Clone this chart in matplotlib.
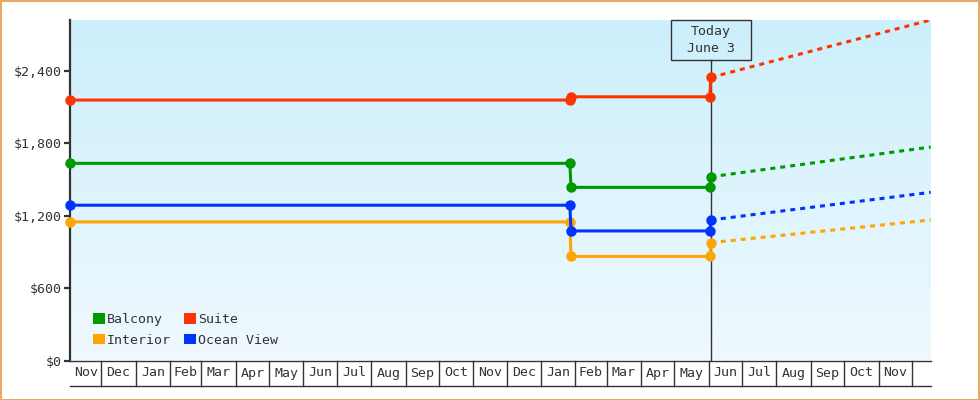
import matplotlib
matplotlib.use('Agg')
import matplotlib.pyplot as plt
import matplotlib.dates as mdates
from matplotlib.colors import LinearSegmentedColormap
from matplotlib.patches import Rectangle, Patch
from matplotlib.transforms import blended_transform_factory
import numpy as np
import pandas as pd

# ---- data ----
axis_start = '2017-11-03'
axis_end = '2019-12-18'
today = '2019-06-03'
today_label = 'Today\nJune 3'

price_dates = ['2017-11-03', '2019-01-27', '2019-01-28', '2019-06-02', '2019-06-03']
forecast_dates = ['2019-06-03', '2019-12-18']

series_names = ['Balcony', 'Suite', 'Interior', 'Ocean View']
series_colors = ['#009900', '#FF3300', '#FFA500', '#0033FF']
balcony = [1633, 1633, 1434, 1434, 1522]
suite = [2157, 2157, 2184, 2184, 2345]
interior = [1148, 1148, 862, 862, 976]
ocean_view = [1286, 1286, 1073, 1073, 1164]
forecast_end = [1768, 2820, 1164, 1393]

y_ticks = [0, 600, 1200, 1800, 2400]
y_max = 2820

TEXT = '#333333'
plt.rcParams['font.family'] = ['DejaVu Sans Mono']
plt.rcParams['lines.scale_dashes'] = False

fig = plt.figure(figsize=(9.8, 4), dpi=100)
W, H = 980, 400
ax = fig.add_axes([70.3 / W, 39.5 / H, (930.7 - 70.3) / W, (380 - 39.5) / H])
ax_w_px, ax_h_px = 930.7 - 70.3, 380 - 39.5

# gradient background
cmap = LinearSegmentedColormap.from_list('bg', ['#CCEFFC', '#EFF9FE'])
ax.imshow(np.linspace(0, 1, 256).reshape(-1, 1), extent=[0, 1, 0, 1],
          transform=ax.transAxes, cmap=cmap, aspect='auto', zorder=0)

x = pd.to_datetime(price_dates)
xf = pd.to_datetime(forecast_dates)
all_series = [balcony, suite, interior, ocean_view]
for vals, end, color in zip(all_series, forecast_end, series_colors):
    ax.plot(xf, [vals[-1], end], color=color, lw=2.2, dashes=(3.6, 3.6),
            solid_capstyle='butt', zorder=3)
for vals, color in zip(all_series, series_colors):
    ax.plot(x, vals, color=color, lw=2.2, marker='o', ms=6.5,
            solid_capstyle='butt', clip_on=False, zorder=4)

x0, x1 = mdates.date2num(pd.Timestamp(axis_start)), mdates.date2num(pd.Timestamp(axis_end))
ax.set_xlim(x0, x1)
ax.set_ylim(0, y_max)

# y axis
ax.set_yticks(y_ticks)
ax.set_yticklabels(['$' + format(v, ',') for v in y_ticks])
ax.tick_params(axis='y', length=4, width=1.6, color=TEXT, labelcolor=TEXT,
               labelsize=9.5, pad=2)
ax.set_xticks([])
for s in ['top', 'right', 'bottom']:
    ax.spines[s].set_visible(False)
ax.spines['left'].set_color(TEXT)
ax.spines['left'].set_linewidth(1.6)
ax.spines['left'].set_zorder(2)

# month boxes under the plot
tr = blended_transform_factory(ax.transData, ax.transAxes)
box_h = 25 / ax_h_px
ax.plot([0, 1], [0, 0], transform=ax.transAxes, color=TEXT, lw=1, clip_on=False)
ax.plot([0, 1], [-box_h, -box_h], transform=ax.transAxes, color=TEXT, lw=1, clip_on=False)
month_starts = pd.date_range(axis_start, axis_end, freq='MS')
edges = [pd.Timestamp(axis_start)] + list(month_starts) + [pd.Timestamp(axis_end)]
for i in range(len(edges) - 1):
    a, b = mdates.date2num(edges[i]), mdates.date2num(edges[i + 1])
    if i > 0:
        ax.plot([a, a], [0, -box_h], transform=tr, color=TEXT, lw=1, clip_on=False)
    if b - a > 20:
        ax.text((a + b) / 2, -box_h / 2, edges[i].strftime('%b'), transform=tr,
                ha='center', va='center', fontsize=9.5, color=TEXT)

# today marker
t = mdates.date2num(pd.Timestamp(today))
box_w, box_hh = 80 / ax_w_px, 40 / ax_h_px
tx = (t - x0) / (x1 - x0)
ax.axvline(t, ymin=0, ymax=1 - box_hh, color=TEXT, lw=1, zorder=2)
ax.add_patch(Rectangle((tx - box_w / 2, 1 - box_hh), box_w, box_hh, transform=ax.transAxes,
                       facecolor='none', edgecolor=TEXT, lw=1, zorder=5, clip_on=False))
ax.text(tx, 1 - box_hh / 2, today_label, transform=ax.transAxes, ha='center', va='center',
        fontsize=9.5, color=TEXT, linespacing=1.3, zorder=6)

# legend
handles = [Patch(facecolor=c, edgecolor='none') for c in series_colors]
order = [0, 2, 1, 3]
leg = ax.legend([handles[i] for i in order], [series_names[i] for i in order], ncol=2,
                loc='lower left', bbox_to_anchor=(23 / ax_w_px, 14 / ax_h_px),
                frameon=False, fontsize=9.5, handlelength=0.85, handleheight=0.85,
                handletextpad=0.2, columnspacing=1.0, labelspacing=0.55, borderpad=0,
                borderaxespad=0)
for txt in leg.get_texts():
    txt.set_color(TEXT)

# orange frame round the figure
fig.patches.append(Rectangle((0.5 / W, 0.5 / H), 1 - 1.5 / W, 1 - 1.5 / H, transform=fig.transFigure,
                             facecolor='none', edgecolor='#E9AA66', lw=1.5))

fig.savefig('out.png', dpi=100)
